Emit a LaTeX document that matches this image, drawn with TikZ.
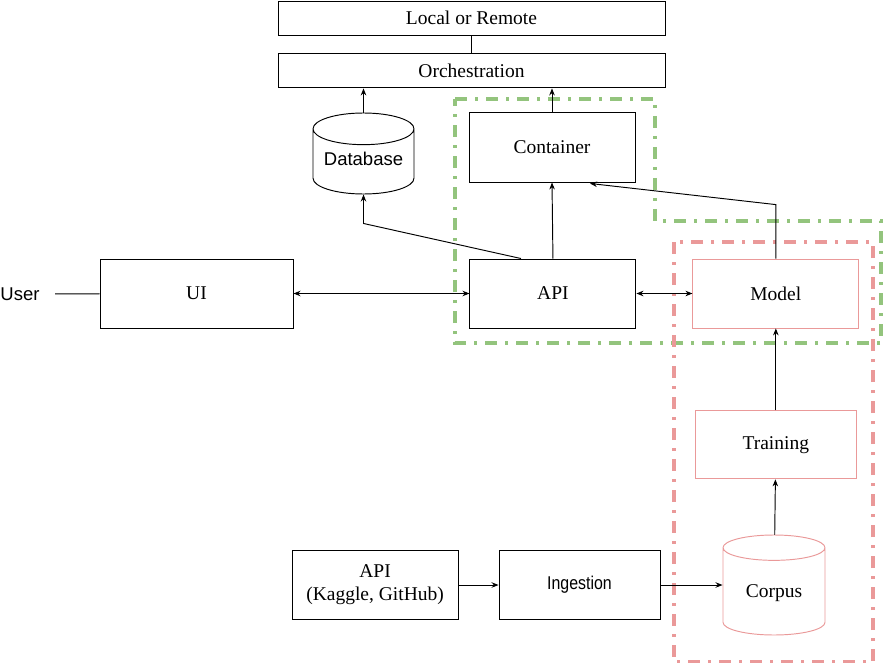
\documentclass[tikz,border=0pt]{standalone}
\usepackage{fontspec}
\setmainfont{Liberation Serif}
\newfontfamily\arialfont{Liberation Sans}
\newfontfamily\narrowfont[FakeStretch=0.86]{Liberation Sans}
\usetikzlibrary{positioning, arrows.meta, shapes.geometric, calc}
\definecolor{grpgreen}{HTML}{93C47D}
\definecolor{grpred}{HTML}{EA9999}

\begin{document}
\begin{tikzpicture}[
		x=1pt, y=-1pt,
		>={Stealth[length=7pt,width=5.5pt]},
		line width=0.95pt,
		box/.style={draw=black, fill=white, rectangle, inner sep=0pt, minimum width=166pt, minimum height=69pt, align=center, font=\fontsize{19.5}{23}\selectfont},
		redbox/.style={box, draw=grpred},
		store/.style={draw=black, fill=white, cylinder, shape border rotate=90, anchor=shape center, aspect=0.4, inner sep=0pt, align=center, text height=12pt, text depth=0pt},
		sanstext/.style={font=\arialfont\fontsize{18.5}{22}\selectfont},
		group/.style={line width=3.5pt, dash pattern=on 12pt off 8pt on 3pt off 8pt}
		]
		\useasboundingbox (0,0) rectangle (883,663);
		
		% Vùng nhóm (xanh và đỏ)
		\draw[group, grpgreen] (455,99) -- (655,99) -- (655,221) -- (881,221) -- (881,343) -- (455,343) -- cycle;
		\draw[group, grpred] (674,242) rectangle (873,662);
		
		% Khối trên cùng
		\node[box, minimum width=387pt, minimum height=34pt] (local) at (471.5,18) {Local or Remote};
		\node[box, minimum width=387pt, minimum height=34pt, below=18pt of local] (orch) {Orchestration};
		
		\node[store, sanstext, text height=8pt, minimum height=81pt, minimum width=101pt] (db) at (363.5,153.5) {Database};
		\node[box, minimum height=70pt] (container) at (552,147) {Container};
		
		% Hàng giữa
		\node[box, minimum width=193pt] (ui) at (196.5,293.5) {UI};
		\node[sanstext, inner sep=0pt] (user) at (20,294) {User};
		\node[box, right=176pt of ui] (api) {API};
		\node[redbox, line width=0.8pt, right=56pt of api] (model) {Model};
		
		% Huấn luyện và dữ liệu
		\node[redbox, minimum width=161pt, minimum height=68pt, below=82pt of model] (training) {Training};
		\node[store, draw=grpred, aspect=0.45, minimum height=100pt, minimum width=102pt, font=\fontsize{19.5}{23}\selectfont] (corpus) at (774,585) {Corpus};
		\node[box, minimum width=161pt, sanstext] (ingest) at (579.5,585) {\narrowfont Ingestion};
		\node[box, left=40pt of ingest] (kaggle) {API\\(Kaggle, GitHub)};
		
		% Vẽ mũi tên liên kết
		\draw (local) -- (orch);
		\draw[->] (db.north) -- (db.north |- orch.south);
		\draw[->] (container.north) -- (container.north |- orch.south);
		\draw[shorten <=15pt] (user) -- (ui);
		\draw[<->] (ui) -- (api);
		\draw[<->] (api) -- (model);
		\draw[->] (api.north) -- (container.south);
		\draw[->] ($(api.north)+(-32,0)$) -- ($(db.south)+(0,29)$) -- (db.south);
		\draw[->] (model.north) -- ($(model.north)+(0,-54)$) -- ($(container.south)+(38,1)$);
		\draw[->] (training) -- (model);
		\draw[->] (corpus) -- (training);
		\draw[->] (kaggle) -- (ingest);
		\draw[->] (ingest.east) -- (ingest.east -| corpus.west);
		
	\end{tikzpicture}
\end{document}
